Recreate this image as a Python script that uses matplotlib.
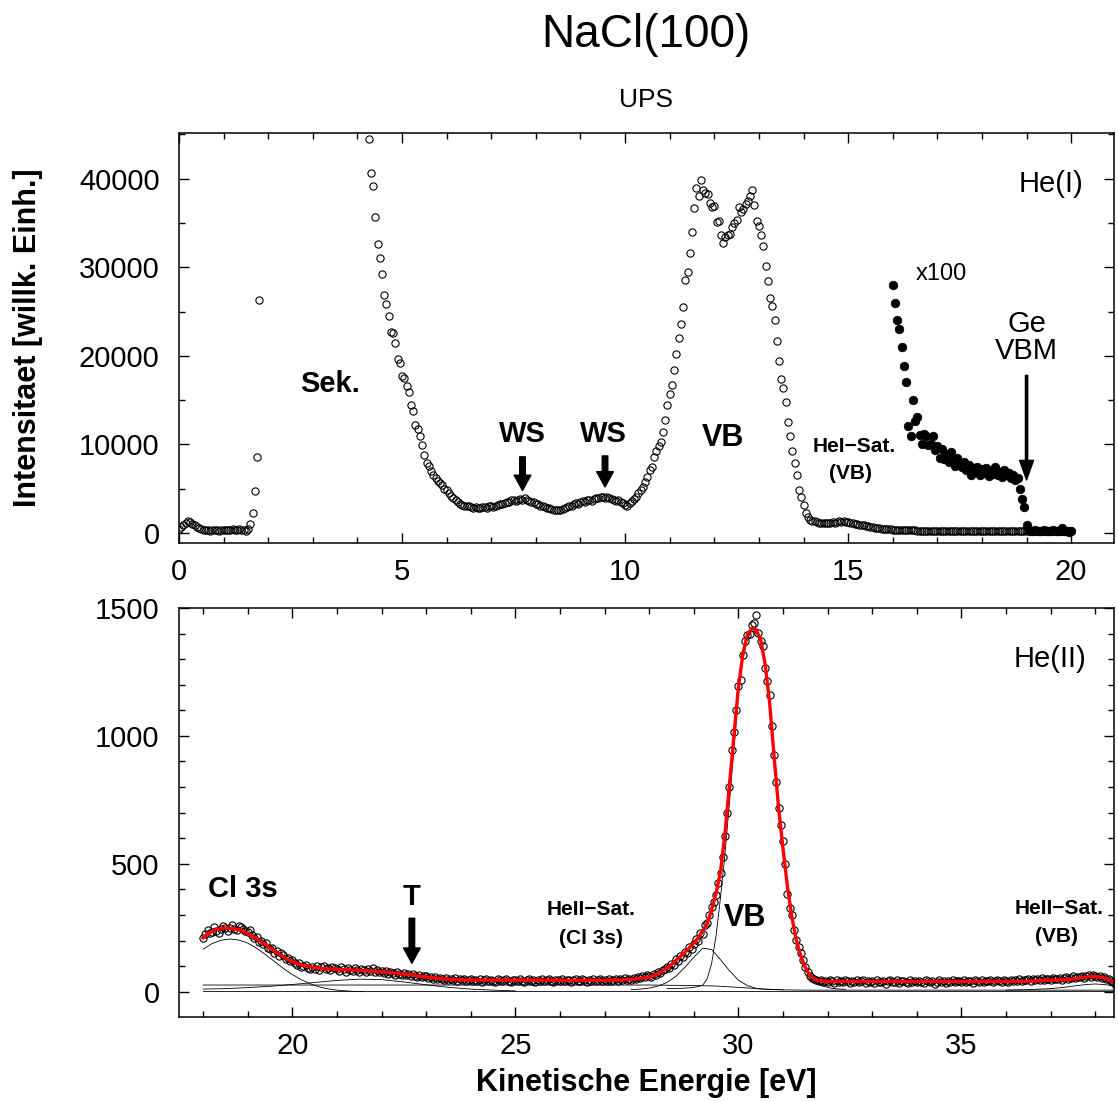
import numpy as np
import matplotlib
matplotlib.use("Agg")
import matplotlib.pyplot as plt
from matplotlib.ticker import MultipleLocator

plt.rcParams["font.family"] = ["Liberation Sans", "DejaVu Sans"]

nan = np.nan

# ====================================================
# DATA  He(I)  (x = 0.00 ... 20.00, step 0.05, one row per eV)
# ====================================================

he1_y = [
    450, 650, 900, 1150, 1300, 1250, 1050, 900, 700, 550, 400, 350, 300, 300, 280, 300, 290, 300, 280, 300,
    290, 300, 310, 350, 400, 380, 350, 420, 380, 350, 250, 400, 1000, 2300, 4700, 8600, 26300, nan, nan, nan,
    nan, nan, nan, nan, nan, nan, nan, nan, nan, nan, nan, nan, nan, nan, nan, nan, nan, nan, nan, nan,
    nan, nan, nan, nan, nan, nan, nan, nan, nan, nan, nan, nan, nan, nan, nan, nan, nan, nan, nan, nan,
    nan, nan, nan, nan, nan, 44500, 40700, 39200, 35700, 32600, 31000, 29200, 26900, 25900, 24500, 22700, 22600, 21400, 19600, 19200,
    17700, 17500, 16600, 15900, 14400, 13800, 12200, 11700, 10900, 9900, 8800, 7900, 7600, 7000, 6500, 6200, 5900, 5700, 5400, 5000,
    4800, 4500, 4200, 3900, 3700, 3500, 3300, 3200, 3100, 3000, 3000, 2900, 2850, 2900, 2850, 2800, 2900, 2950, 2850, 3000,
    3050, 2900, 3100, 3150, 3250, 3300, 3400, 3500, 3450, 3700, 3750, 3600, 3700, 3800, 3750, 3900, 3700, 3600, 3500, 3450,
    3300, 3250, 3100, 3000, 2950, 2800, 2850, 2700, 2650, 2600, 2650, 2600, 2700, 2800, 2900, 3000, 3100, 3250, 3350, 3300,
    3450, 3600, 3500, 3700, 3750, 3650, 3850, 3900, 4000, 4100, 4050, 3950, 4100, 4000, 3850, 3700, 3600, 3750, 3550, 3400,
    3200, 3100, 3350, 3600, 3800, 4100, 4500, 4800, 5200, 5800, 6300, 7100, 7500, 8600, 9300, 9800, 10300, 11400, 12800, 14400,
    15700, 16700, 18400, 20200, 22000, 23600, 25500, 28600, 29500, 31600, 34000, 36700, 39000, 38100, 39800, 38700, 38400, 38300, 37300, 36800,
    36900, 35100, 35200, 33700, 32700, 33400, 33600, 33800, 34500, 35000, 35300, 36800, 36200, 36600, 37200, 37500, 38000, 38700, 37000, 35200,
    34700, 33700, 32400, 30100, 28500, 26500, 25600, 24100, 21700, 19400, 17400, 16400, 14800, 12500, 11000, 9300, 7900, 6500, 4900, 4100,
    3200, 2300, 1800, 1500, 1350, 1300, 1200, 1150, 1100, 1100, 1150, 1100, 1150, 1200, 1150, 1250, 1300, 1250, 1300, 1250,
    1200, 1150, 1100, 1050, 1000, 950, 900, 850, 800, 750, 700, 650, 600, 550, 550, 500, 480, 450, 420, 400,
    380, 360, 350, 340, 330, 320, 310, 300, 300, 290, 290, 280, 280, 270, 280, 270, 260, 270, 260, 260,
    250, 260, 250, 240, 250, 250, 240, 250, 240, 240, 250, 240, 230, 240, 250, 240, 230, 240, 230, 240,
    230, 240, 230, 230, 240, 230, 220, 230, 240, 230, 220, 230, 230, 220, 230, 240, 220, 230, 220, 230,
    220, 230, 220, 230, 220, 210, 220, 230, 220, 210, 220, 230, 220, 210, 220, 220, 210, 220, 230, 210,
    220,
]
he1_x = np.round(np.arange(len(he1_y)) * 0.05, 2)

# x100 magnified part (x = 16.00 ... 20.00, step 0.05)
x100_y = [
    28000, 26000, 24000, 23000, 21000, 18800, 17000, 12100, 11000, 15000, 12600, 13100, 11100, 10100, 11200, 11000, 9900, 10100, 11000, 9400,
    9800, 8500, 9500, 8300, 8900, 8000, 9100, 8200, 7600, 8500, 7900, 7400, 8000, 7100, 7700, 6600, 7300, 6900, 7400, 6500,
    7200, 6800, 7300, 6400, 7000, 6700, 7400, 6500, 6900, 6300, 7100, 6600, 6800, 6200, 6600, 6000, 6200, 5000, 3800, 2900,
    950, 300, 250, 200, 300, 200, 250, 200, 300, 250, 200, 250, 300, 200, 250, 200, 600, 250, 200, 150,
    200,
]
x100_x = np.round(16.0 + np.arange(len(x100_y)) * 0.05, 2)

# ====================================================
# DATA  He(II)  (x = 18.00 ... 38.45, step 0.05)
# ====================================================

he2_y = [
    208, 225, 240, 228, 232, 252, 238, 230, 246, 255, 248, 236, 250, 262, 244, 240, 258, 252, 246, 236,
    232, 240, 222, 208, 214, 196, 200, 186, 190, 172, 168, 170, 152, 158, 140, 150, 144, 128, 132, 120,
    125, 112, 105, 112, 98, 100, 104, 94, 88, 96, 90, 100, 86, 95, 102, 88, 92, 85, 98, 94,
    90, 82, 96, 88, 78, 92, 86, 80, 94, 84, 78, 90, 86, 76, 88, 82, 92, 78, 84, 76,
    82, 72, 80, 70, 78, 74, 66, 76, 70, 64, 72, 66, 70, 60, 68, 62, 58, 66, 56, 62,
    60, 52, 58, 50, 56, 48, 54, 50, 46, 54, 44, 50, 46, 52, 42, 48, 44, 50, 42, 46,
    48, 40, 46, 42, 50, 38, 44, 48, 40, 46, 42, 38, 48, 44, 40, 46, 50, 42, 38, 44,
    46, 40, 48, 42, 38, 46, 50, 40, 44, 38, 46, 42, 48, 40, 44, 50, 42, 38, 46, 44,
    42, 48, 40, 46, 44, 38, 46, 50, 42, 40, 48, 44, 38, 46, 42, 48, 40, 44, 50, 42,
    46, 40, 48, 42, 46, 50, 42, 48, 44, 52, 46, 50, 46, 54, 48, 56, 52, 60, 58, 66,
    60, 56, 68, 64, 76, 72, 84, 88, 96, 92, 110, 104, 126, 120, 140, 134, 156, 150, 176, 168,
    186, 204, 198, 230, 226, 262, 270, 300, 330, 350, 378, 424, 465, 528, 607, 698, 800, 946, 1017, 1102,
    1196, 1220, 1317, 1370, 1395, 1400, 1435, 1441, 1474, 1402, 1370, 1350, 1265, 1213, 1161, 1037, 926, 820, 720, 650,
    590, 500, 380, 326, 300, 240, 202, 176, 150, 124, 95, 78, 60, 52, 48, 44, 40, 46, 38, 42,
    36, 44, 40, 34, 46, 38, 42, 36, 44, 40, 34, 42, 38, 46, 36, 40, 44, 34, 42, 38,
    40, 34, 44, 38, 36, 42, 30, 40, 46, 36, 38, 44, 34, 40, 42, 36, 32, 44, 38, 40,
    36, 42, 38, 34, 44, 40, 36, 42, 30, 38, 44, 36, 40, 34, 42, 38, 44, 36, 40, 42,
    38, 44, 36, 40, 42, 34, 46, 40, 38, 44, 36, 42, 40, 46, 38, 42, 44, 40, 36, 46,
    42, 38, 46, 40, 44, 42, 48, 40, 46, 44, 48, 42, 50, 44, 48, 46, 52, 44, 50, 48,
    46, 52, 48, 50, 54, 46, 52, 56, 50, 54, 60, 52, 58, 56, 62, 54, 60, 66, 58, 64,
    60, 56, 62, 52, 58, 48, 50, 42, 38, 30,
]
he2_x = np.round(18.0 + np.arange(len(he2_y)) * 0.05, 2)

# total fit (red), x = 18.0 ... 38.5, step 0.1
fit_y = [
    210, 225, 236, 243, 247, 249, 248, 246, 242, 236,
    228, 219, 208, 196, 184, 171, 159, 147, 136, 126,
    118, 111, 105, 100, 97, 94, 92, 90, 89, 88,
    87, 86, 86, 85, 84, 83, 82, 81, 80, 79,
    78, 76, 75, 73, 71, 69, 67, 65, 62, 60,
    58, 56, 54, 52, 50, 49, 48, 47, 46, 46,
    45, 45, 45, 45, 45, 45, 45, 45, 45, 45,
    45, 45, 45, 45, 45, 45, 45, 45, 45, 45,
    44, 44, 44, 44, 44, 44, 44, 44, 44, 44,
    44, 44, 45, 45, 46, 47, 48, 50, 52, 54,
    57, 63, 71, 81, 92, 106, 122, 137, 153, 171,
    190, 210, 238, 267, 320, 385, 470, 620, 810, 1000,
    1190, 1320, 1395, 1420, 1415, 1375, 1280, 1130, 920, 720,
    560, 410, 290, 200, 140, 95, 65, 50, 44, 42,
    40, 40, 40, 40, 40, 40, 40, 40, 40, 40,
    40, 40, 40, 40, 40, 40, 40, 40, 40, 40,
    40, 40, 40, 40, 40, 40, 40, 40, 40, 40,
    40, 40, 40, 40, 40, 40, 40, 40, 40, 40,
    40, 40, 40, 40, 40, 40, 41, 42, 43, 44,
    45, 45, 46, 47, 48, 50, 52, 55, 57, 59,
    59, 57, 53, 47, 38, 30,
]
fit_x = np.round(18.0 + np.arange(len(fit_y)) * 0.1, 1)

# fit components (thin black lines)
cl3s_x = [18.0, 18.2, 18.4, 18.6, 18.8, 19.0, 19.2, 19.4, 19.6, 19.8, 20.0, 20.2, 20.4, 20.6, 20.8, 21.0, 21.2, 21.4, 21.6]
cl3s_y = [166, 188, 201, 206, 202, 190, 170, 145, 118, 91, 67, 47, 31, 19, 11, 6, 3, 1, 0]

t_x = [18.0, 18.5, 19.0, 19.5, 20.0, 20.5, 21.0, 21.5, 22.0, 22.5, 23.0, 23.5, 24.0, 24.5, 25.0]
t_y = [10, 12, 16, 21, 28, 36, 44, 49, 47, 38, 27, 17, 10, 6, 3]

bg_x = [18.0, 28.0, 28.5, 29.0, 29.5, 30.0, 30.5, 31.0, 31.5, 38.5]
bg_y = [26, 26, 25, 24, 22, 17, 11, 7, 6, 6]

base_x = [18.0, 38.5]
base_y = [2, 2]

vbsat_x = [27.6, 27.8, 28.0, 28.2, 28.4, 28.6, 28.8, 29.0, 29.2, 29.4, 29.6, 29.8, 30.0, 30.2, 30.4, 30.6, 30.8, 31.0]
vbsat_y = [8, 10, 14, 22, 36, 60, 95, 135, 170, 165, 125, 82, 45, 24, 13, 9, 8, 8]

vb_x = np.round(28.4 + np.arange(41) * 0.1, 1)
vb_y = [
    12, 12, 13, 13, 14, 15, 17, 20,
    25, 50, 110, 220, 370, 540, 740, 950,
    1160, 1300, 1380, 1410, 1405, 1365, 1272, 1122, 913, 714,
    554, 404, 284, 194, 133, 88, 57, 40, 30, 22,
    17, 13, 11, 10, 9,
]

sat_x = [36.0, 36.5, 37.0, 37.3, 37.6, 37.8, 38.0, 38.2, 38.4, 38.5]
sat_y = [6, 8, 12, 17, 24, 28, 30, 28, 23, 20]

# ====================================================
# FIGURE
# ====================================================

W, H = 1118, 1101
fig = plt.figure(figsize=(W / 100, H / 100), dpi=100)

ax1 = fig.add_axes([179 / W, 1 - 543 / H, 935 / W, 410 / H])
ax2 = fig.add_axes([179 / W, 1 - 1017 / H, 935 / W, 409 / H])

tick_fs = 21
bold_fs = 21
small_fs = 15

for ax in (ax1, ax2):
    ax.tick_params(which="both", direction="in", top=True, right=True, width=1.0, labelsize=tick_fs)
    ax.tick_params(which="major", length=7)
    ax.tick_params(which="minor", length=4.5)
    ax.tick_params(axis="y", pad=14)
    ax.tick_params(axis="x", pad=11)
    for sp in ax.spines.values():
        sp.set_linewidth(1.1)

# ====================================================
# TOP : He(I)
# ====================================================

ax1.plot(he1_x, he1_y, "o", ms=5.2, mfc="none", mec="k", mew=0.8, clip_on=True)
ax1.plot(x100_x, x100_y, "o", ms=6.2, mfc="k", mec="k", mew=0.5)

ax1.set_xlim(0, 20.96)
ax1.set_ylim(-1130, 45160)
ax1.xaxis.set_major_locator(MultipleLocator(5))
ax1.xaxis.set_minor_locator(MultipleLocator(1))
ax1.yaxis.set_major_locator(MultipleLocator(10000))
ax1.yaxis.set_minor_locator(MultipleLocator(5000))

ax1.set_ylabel("Intensitaet [willk. Einh.]", fontsize=22, fontweight="bold", va="center")
ax1.yaxis.set_label_coords((28 - 179) / 935, 0.5)

thick_arrow = dict(arrowstyle="simple,head_length=0.55,head_width=0.6,tail_width=0.2",
                   color="k", shrinkA=0, shrinkB=0, mutation_scale=20)
thin_arrow = dict(arrowstyle="simple,head_length=0.7,head_width=0.5,tail_width=0.08",
                  color="k", shrinkA=0, shrinkB=0, mutation_scale=20)

ax1.text(3.39, 16800, "Sek.", fontsize=bold_fs, fontweight="bold", ha="center", va="center")
ax1.text(7.70, 11200, "WS", fontsize=bold_fs, fontweight="bold", ha="center", va="center")
ax1.annotate("", xy=(7.70, 4800), xytext=(7.70, 8600), arrowprops=thick_arrow)
ax1.text(9.52, 11200, "WS", fontsize=bold_fs, fontweight="bold", ha="center", va="center")
ax1.annotate("", xy=(9.55, 5200), xytext=(9.55, 8700), arrowprops=thick_arrow)
ax1.text(12.19, 10700, "VB", fontsize=22, fontweight="bold", ha="center", va="center")
ax1.text(15.13, 9750, "HeI\u2212Sat.", fontsize=small_fs, fontweight="bold", ha="center", va="center")
ax1.text(15.05, 6750, "(VB)", fontsize=small_fs, fontweight="bold", ha="center", va="center")
ax1.text(17.1, 29250, "x100", fontsize=17, ha="center", va="center")
ax1.text(19.0, 23600, "Ge", fontsize=21, ha="center", va="center")
ax1.text(19.0, 20600, "VBM", fontsize=21, ha="center", va="center")
ax1.annotate("", xy=(19.0, 6000), xytext=(19.0, 17800), arrowprops=thin_arrow)
ax1.text(20.28, 39400, "He(I)", fontsize=21, ha="right", va="center")

# ====================================================
# BOTTOM : He(II)
# ====================================================

for cx, cy in ((base_x, base_y), (bg_x, bg_y), (cl3s_x, cl3s_y), (t_x, t_y),
               (vbsat_x, vbsat_y), (vb_x, vb_y), (sat_x, sat_y)):
    ax2.plot(cx, cy, color="k", lw=0.6)

ax2.plot(he2_x, he2_y, "o", ms=5.2, mfc="none", mec="k", mew=0.8)
ax2.plot(fit_x, fit_y, color="#ff0000", lw=2.4)

ax2.set_xlim(17.46, 38.42)
ax2.set_ylim(-99, 1500)
ax2.xaxis.set_major_locator(MultipleLocator(5))
ax2.xaxis.set_minor_locator(MultipleLocator(1))
ax2.yaxis.set_major_locator(MultipleLocator(500))
ax2.yaxis.set_minor_locator(MultipleLocator(100))

ax2.set_xlabel("Kinetische Energie [eV]", fontsize=22, fontweight="bold", va="center")
ax2.xaxis.set_label_coords(0.5, (1017 - 1083) / 409)

ax2.text(18.9, 400, "Cl 3s", fontsize=bold_fs, fontweight="bold", ha="center", va="center")
ax2.text(22.67, 372, "T", fontsize=bold_fs, fontweight="bold", ha="center", va="center")
ax2.annotate("", xy=(22.68, 111), xytext=(22.68, 287), arrowprops=thick_arrow)
ax2.text(26.7, 320, "HeII\u2212Sat.", fontsize=small_fs, fontweight="bold", ha="center", va="center")
ax2.text(26.7, 209, "(Cl 3s)", fontsize=small_fs, fontweight="bold", ha="center", va="center")
ax2.text(30.14, 287, "VB", fontsize=22, fontweight="bold", ha="center", va="center")
ax2.text(37.18, 326, "HeII\u2212Sat.", fontsize=small_fs, fontweight="bold", ha="center", va="center")
ax2.text(37.14, 215, "(VB)", fontsize=small_fs, fontweight="bold", ha="center", va="center")
ax2.text(37.81, 1300, "He(II)", fontsize=21, ha="right", va="center")

# ====================================================
# TITLES
# ====================================================

fig.text(646 / W, 1 - 47 / H, "NaCl(100)", fontsize=33, ha="center", va="baseline")
fig.text(646 / W, 1 - 107 / H, "UPS", fontsize=19, ha="center", va="baseline")

fig.savefig("out.png", dpi=100)
